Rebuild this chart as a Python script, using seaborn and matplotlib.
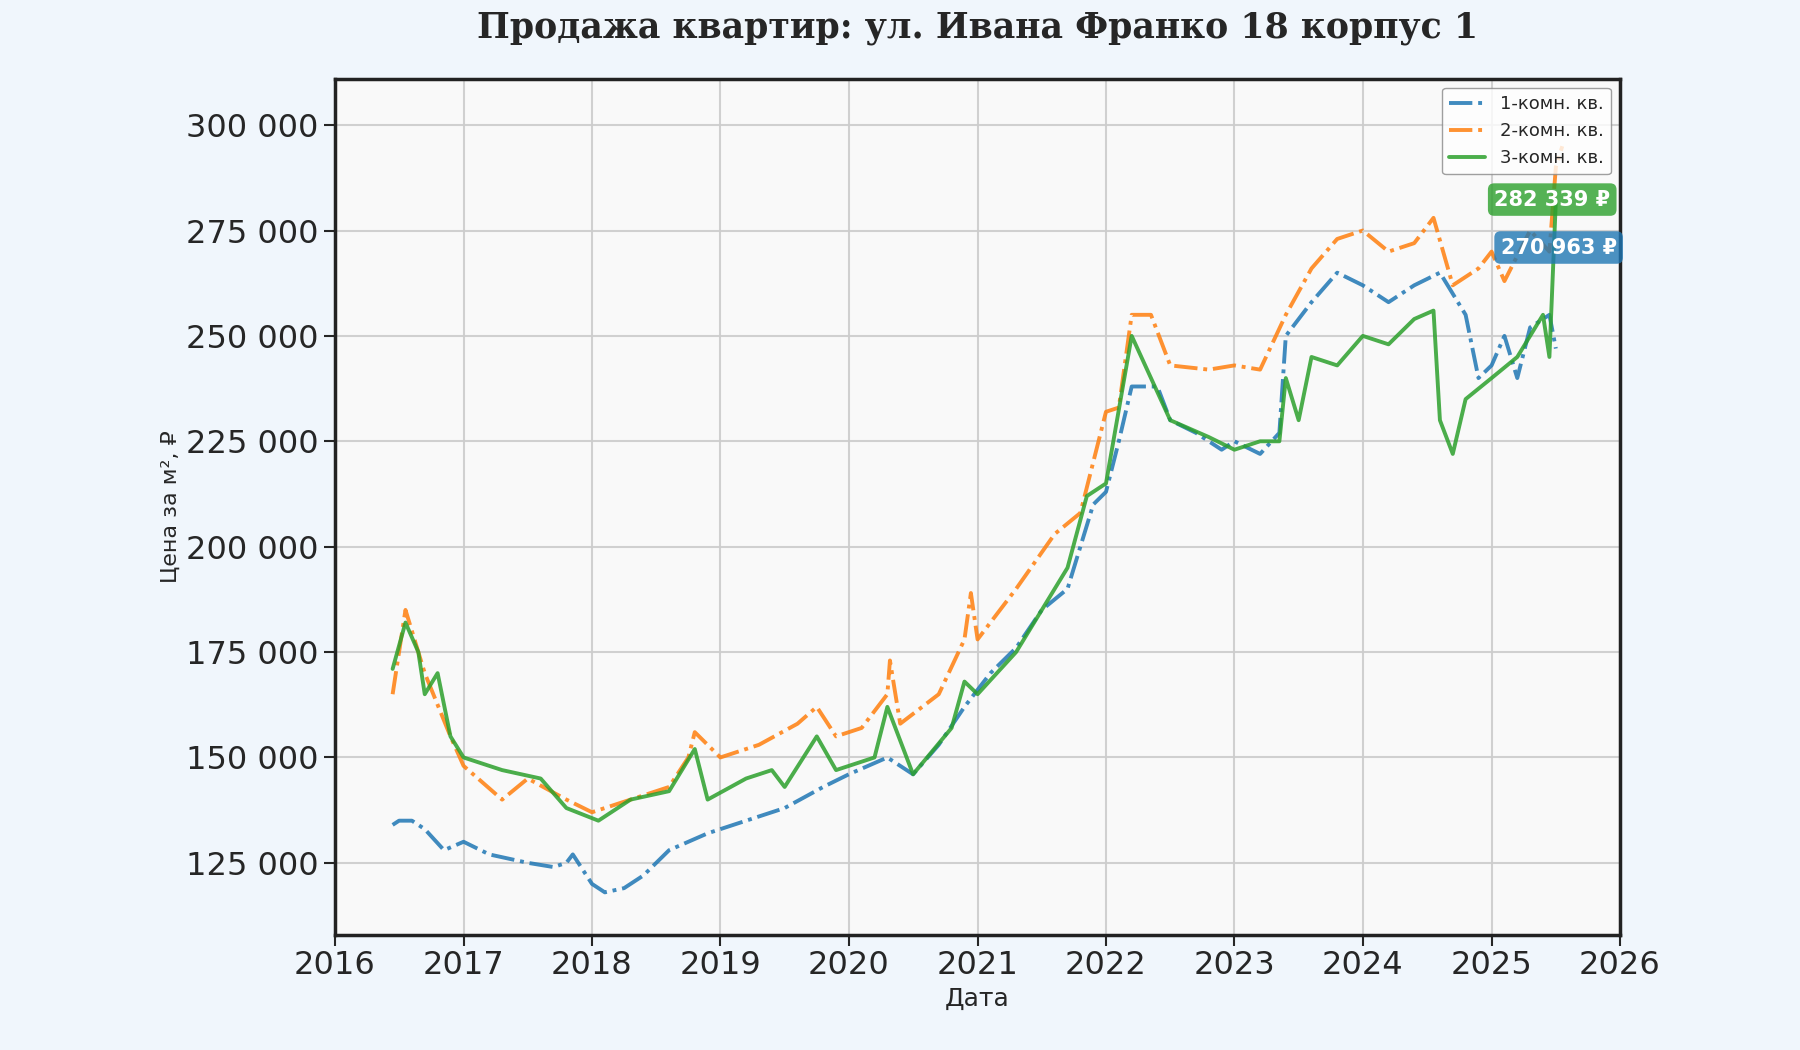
import numpy as np
import pandas as pd
import seaborn as sns
import matplotlib.pyplot as plt
import matplotlib.dates as mdates

# decimal years and price per m2 (thousands)
t1 = [2016.45, 2016.5, 2016.6, 2016.7, 2016.85, 2017.0, 2017.2, 2017.5, 2017.7, 2017.8, 2017.85, 2018.0,
      2018.1, 2018.25, 2018.4, 2018.6, 2018.9, 2019.2, 2019.5, 2019.8, 2020.0, 2020.3, 2020.5, 2020.7,
      2020.9, 2021.1, 2021.3, 2021.5, 2021.7, 2021.9, 2022.0, 2022.1, 2022.2, 2022.4, 2022.5, 2022.7,
      2022.9, 2023.0, 2023.2, 2023.35, 2023.4, 2023.6, 2023.8, 2024.0, 2024.2, 2024.4, 2024.6, 2024.8,
      2024.9, 2025.0, 2025.1, 2025.2, 2025.3, 2025.45, 2025.5]
v1 = [134, 135, 135, 133, 128, 130, 127, 125, 124, 125, 127, 120,
      118, 119, 122, 128, 132, 135, 138, 143, 146, 150, 146, 153,
      162, 170, 176, 185, 190, 210, 213, 225, 238, 238, 230, 227,
      223, 225, 222, 227, 250, 258, 265, 262, 258, 262, 265, 255,
      240, 243, 250, 240, 252, 255, 247]

t2 = [2016.45, 2016.55, 2016.7, 2016.9, 2017.0, 2017.3, 2017.5, 2017.8, 2018.0, 2018.3, 2018.6, 2018.75,
      2018.8, 2019.0, 2019.3, 2019.6, 2019.75, 2019.9, 2020.1, 2020.3, 2020.32, 2020.4, 2020.7, 2020.9,
      2020.95, 2021.0, 2021.3, 2021.6, 2021.8, 2022.0, 2022.1, 2022.2, 2022.35, 2022.5, 2022.8, 2023.0,
      2023.2, 2023.4, 2023.6, 2023.8, 2024.0, 2024.2, 2024.4, 2024.55, 2024.7, 2024.9, 2025.0, 2025.1,
      2025.3, 2025.45, 2025.5, 2025.55]
v2 = [165, 185, 170, 155, 148, 140, 145, 140, 137, 140, 143, 150,
      156, 150, 153, 158, 162, 155, 157, 165, 173, 158, 165, 178,
      189, 178, 190, 203, 208, 232, 233, 255, 255, 243, 242, 243,
      242, 255, 266, 273, 275, 270, 272, 278, 262, 266, 270, 263,
      275, 270, 290, 295]

t3 = [2016.45, 2016.55, 2016.65, 2016.7, 2016.8, 2016.9, 2017.0, 2017.3, 2017.6, 2017.8, 2018.05, 2018.3,
      2018.6, 2018.8, 2018.9, 2019.2, 2019.4, 2019.5, 2019.75, 2019.9, 2020.2, 2020.3, 2020.5, 2020.8,
      2020.9, 2021.0, 2021.3, 2021.5, 2021.7, 2021.85, 2022.0, 2022.2, 2022.35, 2022.5, 2022.8, 2023.0,
      2023.2, 2023.35, 2023.4, 2023.5, 2023.6, 2023.8, 2024.0, 2024.2, 2024.4, 2024.55, 2024.6, 2024.7,
      2024.8, 2025.0, 2025.2, 2025.4, 2025.45, 2025.5]
v3 = [171, 182, 175, 165, 170, 155, 150, 147, 145, 138, 135, 140,
      142, 152, 140, 145, 147, 143, 155, 147, 150, 162, 146, 157,
      168, 165, 175, 185, 195, 212, 215, 250, 240, 230, 226, 223,
      225, 225, 240, 230, 245, 243, 250, 248, 254, 256, 230, 222,
      235, 240, 245, 255, 245, 282]

labels = ['1-комн. кв.', '2-комн. кв.', '3-комн. кв.']
colors = ['#1f77b4', '#ff7f0e', '#2ca02c']
styles = [(0, (6, 1.5, 1, 1.5)), (0, (6, 1.5, 1, 1.5)), '-']
last_labels = ['270 963 ₽', None, '282 339 ₽']
last_vals = [270963, None, 282339]
label_x = [2025.07, None, 2025.02]


def to_dates(ts):
    out = []
    for t in ts:
        y = int(t)
        start = pd.Timestamp(year=y, month=1, day=1)
        out.append(start + pd.Timedelta(days=(t - y) * 365.25))
    return out


sns.set_theme(style='ticks')
plt.rcParams['font.family'] = ['DejaVu Sans']
fig, ax = plt.subplots(figsize=(18, 10.5), dpi=100)
fig.patch.set_facecolor('#f0f6fc')
ax.set_facecolor('#f9f9f9')

for t, v, lab, c, ls in zip([t1, t2, t3], [v1, v2, v3], labels, colors, styles):
    df = pd.DataFrame({'date': to_dates(t), 'price': np.array(v) * 1000})
    sns.lineplot(data=df, x='date', y='price', ax=ax, color=c, linestyle=ls,
                 linewidth=2.8, alpha=0.85, label=lab)

for lab, val, c, lx in zip(last_labels, last_vals, colors, label_x):
    if lab is None:
        continue
    ax.annotate(lab, xy=(to_dates([lx])[0], val), color='white', fontsize=15,
                fontweight='bold', ha='left', va='center',
                bbox=dict(boxstyle='round,pad=0.3', fc=c, ec='none', alpha=0.8))

ax.set_xlim(pd.Timestamp('2016-01-01'), pd.Timestamp('2026-01-01'))
ax.set_ylim(108000, 311000)
ax.xaxis.set_major_locator(mdates.YearLocator())
ax.xaxis.set_major_formatter(mdates.DateFormatter('%Y'))
ax.yaxis.set_major_formatter(plt.FuncFormatter(lambda x, p: f'{int(x):,}'.replace(',', ' ')))
ax.tick_params(labelsize=23, length=8, width=1.5)
ax.grid(True, color='#cccccc', linewidth=1.5, alpha=0.9)
for s in ax.spines.values():
    s.set_linewidth(2.5)
    s.set_color('#222222')

ax.set_title('Продажа квартир: ул. Ивана Франко 18 корпус 1', fontsize=25, fontweight='bold',
             family='DejaVu Serif', pad=30)
ax.set_xlabel('Дата', fontsize=18)
ax.set_ylabel('Цена за м², ₽', fontsize=16)
ax.legend(loc='upper right', fontsize=13, framealpha=0.8, edgecolor='#888888')

plt.subplots_adjust(left=0.186, right=0.9, top=0.925, bottom=0.11)
plt.savefig('out.png')
plt.close()
